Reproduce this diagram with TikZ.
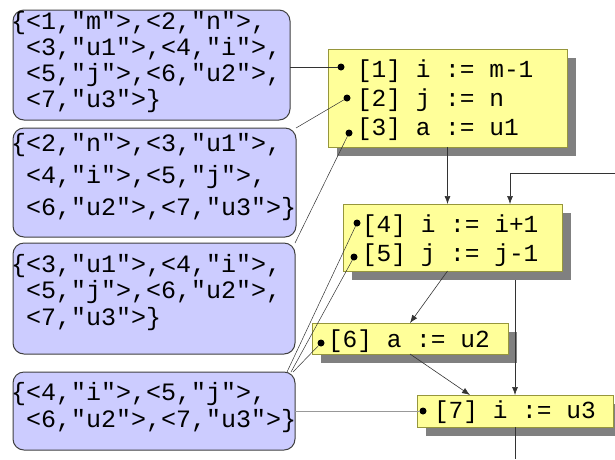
\documentclass[tikz,border=0pt]{standalone}
\usepackage{fontspec}
\setmonofont{Liberation Mono}
\usetikzlibrary{shadows,arrows.meta}
\definecolor{setblue}{RGB}{204,204,255}
\definecolor{stmtyellow}{RGB}{255,255,153}
\definecolor{stmtedge}{RGB}{150,150,60}
\newcommand\ind{\hspace*{0.6em}}

\begin{document}
\begin{tikzpicture}[
            x=1pt, y=-1pt,
            every node/.style={inner sep=0pt, outer sep=0pt},
            setbox/.style={draw=black!75, line width=1pt, fill=setblue, rounded corners=11pt, anchor=north west},
            settext/.style={anchor=base west, align=left, font=\ttfamily\fontsize{25}{25.7}\selectfont},
            stmtbox/.style={draw=stmtedge, line width=0.8pt, fill=stmtyellow, anchor=north west,
                    drop shadow={shadow xshift=9pt, shadow yshift=-9pt, fill=black!50, opacity=1}},
            stmttext/.style={anchor=base west, align=left, font=\ttfamily\fontsize{24.5}{29}\selectfont},
            dot/.style={circle, fill=black, minimum size=7pt},
            flow/.style={draw=black!80, line width=0.6pt, -{Latex[length=8pt,width=6pt]}},
            link/.style={draw=black!80, line width=0.5pt}
        ]
        \useasboundingbox (0,0) rectangle (615,459);

        % sets of definitions (text nodes sit on their last baseline)
        \node[setbox, minimum width=277pt, minimum height=110pt] (setA) at (13,10) {};
        \node[setbox, minimum width=283pt, minimum height=109pt] (setB) at (13,128) {};
        \node[setbox, minimum width=282pt, minimum height=111pt] (setC) at (13,243) {};
        \node[setbox, minimum width=282pt, minimum height=78pt] (setD) at (13,372) {};

        \node[settext] (txtA) at (11,107) {\{<1,"m">,<2,"n">,\\\ind<3,"u1">,<4,"i">,\\\ind<5,"j">,<6,"u2">,\\\ind<7,"u3">\}};
        \node[settext, font=\ttfamily\fontsize{25}{32}\selectfont] (txtB) at (11,215) {\{<2,"n">,<3,"u1">,\\\ind<4,"i">,<5,"j">,\\\ind<6,"u2">,<7,"u3">\}};
        \node[settext, font=\ttfamily\fontsize{25}{26.5}\selectfont] (txtC) at (11,325) {\{<3,"u1">,<4,"i">,\\\ind<5,"j">,<6,"u2">,\\\ind<7,"u3">\}};
        \node[settext, font=\ttfamily\fontsize{25}{27}\selectfont] (txtD) at (11,427) {\{<4,"i">,<5,"j">,\\\ind<6,"u2">,<7,"u3">\}};

        % statements
        \node[stmtbox, minimum width=239pt, minimum height=98pt] (blk1) at (328,49) {};
        \node[stmtbox, minimum width=219pt, minimum height=67pt] (blk2) at (343,204) {};
        \node[stmtbox, minimum width=196pt, minimum height=31pt] (blk3) at (312,323) {};
        \node[stmtbox, minimum width=196pt, minimum height=32pt] (blk4) at (417,395) {};

        \node[stmttext] (s1) at (357,135) {[1] i := m-1\\{}[2] j := n\\{}[3] a := u1};
        \node[stmttext] (s4) at (362,261) {[4] i := i+1\\{}[5] j := j-1};
        \node[stmttext] (s6) at (328,347) {[6] a := u2};
        \node[stmttext] (s7) at (434,418) {[7] i := u3};

        \node[dot] (d1) at (341,67) {};
        \node[dot] (d2) at (347,98) {};
        \node[dot] (d3) at (349,133) {};
        \node[dot] (d4) at (357,223) {};
        \node[dot] (d5) at (354,257) {};
        \node[dot] (d6) at (321,343) {};
        \node[dot] (d7) at (423,411) {};

        % control flow
        \coordinate (back) at (615,173);
        \coordinate (exit) at (515,459);
        \draw[flow] (blk1.south) -- (blk1.south |- blk2.north);
        \draw[flow] (back) -| ([xshift=57.5pt]blk2.north);
        \draw[flow] ([xshift=-5pt]blk2.south) -- (blk3.north);
        \draw[flow] ([yshift=-9pt]blk4.north |- blk2.south) -- (blk4.north);
        \draw[flow] (blk3.south) -- ([xshift=-45pt]blk4.north);
        \draw[link, line width=0.6pt] (blk4.south) -- (exit);

        % reaching definitions
        \draw[link, line width=1pt] (d1 -| setA.east) -- (d1);
        \draw[link] (setB.north east) -- (d2);
        \draw[link] (setC.north east) -- (d3);
        \draw[link] ([xshift=-8pt]setD.north east) -- (d4);
        \draw[link] ([xshift=-4pt]setD.north east) -- (d5);
        \draw[link] ([xshift=-2pt]setD.north east) -- (d6);
        \draw[link, draw=black!40] (d7 -| setD.east) -- (d7);
    \end{tikzpicture}
\end{document}
